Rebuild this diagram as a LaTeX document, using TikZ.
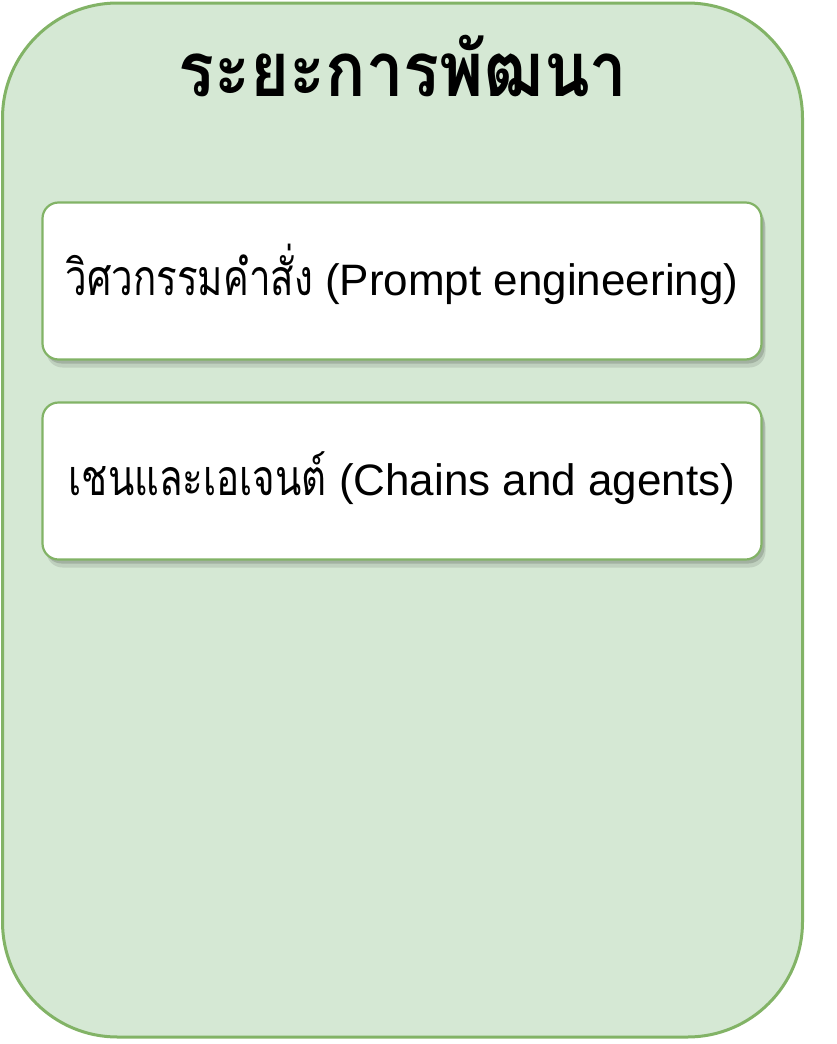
\documentclass[tikz,border=0pt]{standalone}
\usepackage{fontspec}
\setmainfont{Liberation Sans}
\newfontfamily\thaifont[Script=Thai]{Loma}
\usetikzlibrary{shadows}
\definecolor{phasefill}{HTML}{D5E8D4}
\definecolor{phaseline}{HTML}{82B366}
\newcommand\thaitext[1]{\scalebox{0.77}[1]{\thaifont\fontsize{50}{56}\selectfont #1}}

\begin{document}
\begin{tikzpicture}[x=1pt, y=-1pt]
			%%%%% START %%%%%
			\tikzset{
				itembox/.style={draw=phaseline, fill=white, line width=2.2pt, rounded corners=16pt,
					minimum width=719pt, minimum height=157pt, inner sep=0pt,
					text height=41pt, text depth=12pt,
					general shadow={shadow xshift=4pt, shadow yshift=-8pt, opacity=0.10, fill=black},
					drop shadow={shadow xshift=3pt, shadow yshift=-4pt, opacity=0.15, fill=black}},
				itemtext/.style={font=\fontsize{44}{50}\selectfont}
			}
			\useasboundingbox (0, 0) rectangle (836, 1044);
			
			\node[draw=phaseline, fill=phasefill, line width=3pt, rounded corners=115pt,
				minimum width=800pt, minimum height=1034pt, inner sep=0pt] (phase) at (402.5, 520) {};
			
			\node[anchor=base, inner sep=0pt] (phasetitle) at (403, 96)
				{\scalebox{0.88}[1]{\thaifont\bfseries\fontsize{76}{80}\selectfont ระยะการพัฒนา}};
			
			\node[itembox, itemtext] (prompt) at (402, 281) {\thaitext{วิศวกรรมคำสั่ง} (Prompt engineering)};
			\node[itembox, itemtext] (chains) at (402, 481) {\thaitext{เชนและเอเจนต์} (Chains and agents)};
			
			%%%%% END %%%%%
\end{tikzpicture}
\end{document}
